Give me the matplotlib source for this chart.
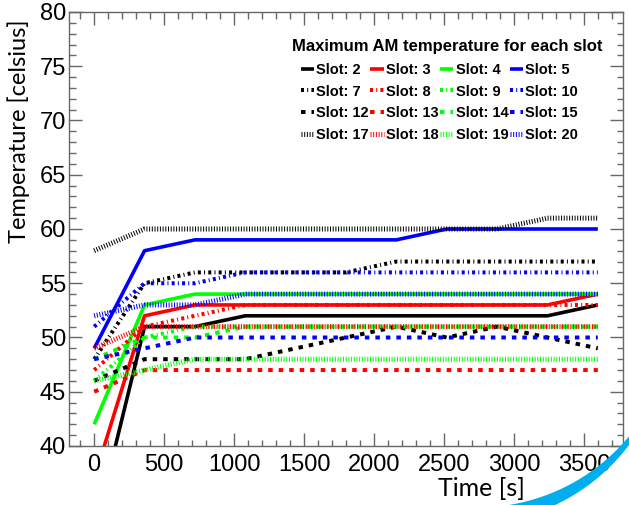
import matplotlib
matplotlib.use('Agg')
import matplotlib.pyplot as plt
from matplotlib.patches import Polygon
from matplotlib.font_manager import FontProperties
import numpy as np

# ---------------- data ----------------
time_s = [0, 360, 720, 1080, 1440, 1800, 2160, 2520, 2880, 3240, 3600]

slot_ids = [2, 3, 4, 5, 7, 8, 9, 10, 12, 13, 14, 15, 17, 18, 19, 20]

slot2 = [32, 51, 51, 52, 52, 52, 52, 52, 52, 52, 53]
slot3 = [37, 52, 53, 53, 53, 53, 53, 53, 53, 53, 54]
slot4 = [42, 53, 54, 54, 54, 54, 54, 54, 54, 54, 54]
slot5 = [49, 58, 59, 59, 59, 59, 59, 60, 60, 60, 60]
slot7 = [48, 55, 56, 56, 56, 56, 57, 57, 57, 57, 57]
slot8 = [47, 51, 52, 53, 53, 53, 53, 53, 53, 53, 53]
slot9 = [46, 50, 51, 51, 51, 51, 51, 51, 51, 51, 51]
slot10 = [51, 55, 55, 56, 56, 56, 56, 56, 56, 56, 56]
slot12 = [46, 48, 48, 48, 49, 50, 51, 50, 51, 50, 49]
slot13 = [45, 47, 47, 47, 47, 47, 47, 47, 47, 47, 47]
slot14 = [48, 50, 50, 51, 51, 51, 51, 51, 51, 51, 51]
slot15 = [48, 49, 50, 50, 50, 50, 50, 50, 50, 50, 50]
slot17 = [58, 60, 60, 60, 60, 60, 60, 60, 60, 61, 61]
slot18 = [49, 51, 51, 51, 51, 51, 51, 51, 51, 51, 51]
slot19 = [46, 47, 48, 48, 48, 48, 48, 48, 48, 48, 48]
slot20 = [52, 53, 53, 54, 54, 54, 54, 54, 54, 54, 54]

series = [slot2, slot3, slot4, slot5, slot7, slot8, slot9, slot10,
          slot12, slot13, slot14, slot15, slot17, slot18, slot19, slot20]

colors = ['black', '#ff0000', '#00ff00', '#0000ff']

title_legend = 'Maximum AM temperature for each slot'
xlabel = 'Time [s]'
ylabel = 'Temperature [celsius]'

# ---------------- style ----------------
W, H = 629, 505
PT = 72.0 / 100.0  # points per pixel at dpi 100
plt.rcParams['lines.scale_dashes'] = False
plt.rcParams['font.family'] = ['Liberation Sans', 'DejaVu Sans']

row_styles = [
    dict(lw=3.6, dashes=None),                 # solid
    dict(lw=4.0, dashes=(3.0, 3.2, 1.0, 3.2)),  # dash-dot
    dict(lw=4.0, dashes=(4.5, 6.0)),            # dashed
    dict(lw=5.0, dashes=(1.0, 1.7)),            # dotted
]

fig = plt.figure(figsize=(W / 100, H / 100), dpi=100)
ax = fig.add_axes([69 / W, (H - 446) / H, (623 - 69) / W, (446 - 12) / H])

handles = []
for i, (sid, vals) in enumerate(zip(slot_ids, series)):
    st = row_styles[i // 4]
    c = colors[i % 4]
    if st['dashes'] is None:
        ls = '-'
    else:
        ls = (0, tuple(d * PT for d in st['dashes']))
    ln, = ax.plot(time_s, vals, color=c, lw=st['lw'] * PT, linestyle=ls,
                  solid_capstyle='butt', dash_capstyle='butt',
                  label=f'Slot: {sid}')
    handles.append(ln)

ax.set_xlim(-180, 3780)
ax.set_ylim(40, 80)
ax.set_xticks(np.arange(0, 3501, 500))
ax.set_xticks(np.arange(-100, 3781, 100), minor=True)
ax.set_yticks(np.arange(40, 81, 5))
ax.set_yticks(np.arange(40, 81, 1), minor=True)

spine_c = '#666666'
for s in ax.spines.values():
    s.set_color(spine_c)
    s.set_linewidth(1.0)
ax.tick_params(which='both', direction='in', top=True, right=True,
               color=spine_c, width=1.0)
ax.tick_params(which='major', length=13 * PT)
ax.tick_params(which='minor', length=6.5 * PT)
ax.tick_params(axis='x', which='major', labelsize=17, pad=6)
ax.tick_params(axis='y', which='major', labelsize=17, pad=2)

# axis titles
fig.text(481.5 / W, 1 - 489 / H, xlabel, family='Lato', fontsize=18,
         ha='center', va='center')
fig.text(19 / W, 1 - 131 / H, ylabel, family='Lato', fontsize=17,
         ha='center', va='center', rotation=90)

# legend (row-major ordering into 4 columns)
order = [row * 4 + col for col in range(4) for row in range(4)]
leg = ax.legend([handles[k] for k in order],
                [f'Slot: {slot_ids[k]}' for k in order],
                ncol=4, loc='upper left',
                bbox_to_anchor=(300.7 / W, 1 - 63 / H),
                bbox_transform=fig.transFigure, frameon=False,
                borderpad=0, borderaxespad=0, handlelength=0.9,
                handletextpad=0.17, columnspacing=0.1, labelspacing=0.52,
                prop=FontProperties(family='Liberation Sans', weight='bold',
                                    size=10.5))
fig.text(447.4 / W, 1 - 46.7 / H, title_legend, family='Liberation Sans',
         weight='bold', fontsize=12, ha='center', va='center')

# decorative arc (bottom right, slide background element)
th = np.radians(np.linspace(20, 98, 400))
oc = np.array([471.7, 326.6])
ic = np.array([477.5, 310.6])
R = 196.9
outer = np.c_[oc[0] + R * np.cos(th), oc[1] + R * np.sin(th)]
inner = np.c_[ic[0] + R * np.cos(th), ic[1] + R * np.sin(th)][::-1]
pts = np.vstack([outer, inner])
pts_fig = np.c_[pts[:, 0] / W, 1 - pts[:, 1] / H]
fig.add_artist(Polygon(pts_fig, closed=True, transform=fig.transFigure,
                       facecolor='#00AEEF', edgecolor='none', zorder=10))

fig.savefig('out.png', dpi=100)
